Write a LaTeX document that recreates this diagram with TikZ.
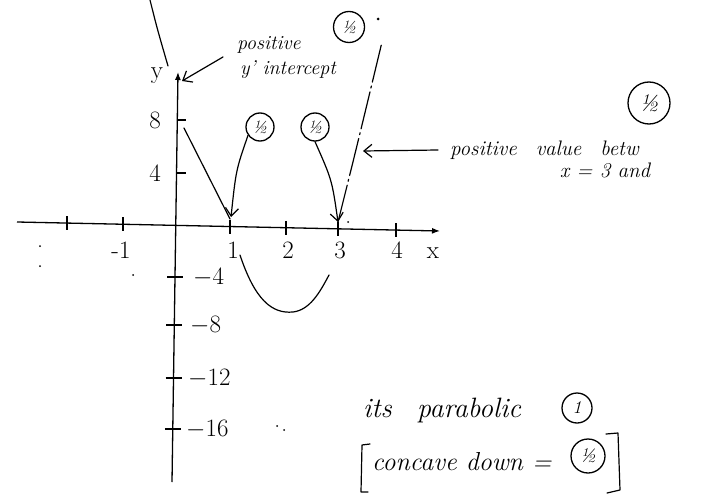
\documentclass[tikz,border=0pt]{standalone}
\usetikzlibrary{arrows.meta}
\begin{document}
\begin{tikzpicture}[x=1pt,y=-1pt,
  axisln/.style={line width=1.3pt, -{Latex[length=8pt,width=6pt]}},
  tk/.style={line width=1.2pt},
  num/.style={font=\fontsize{25}{28}\selectfont, inner sep=0pt},
  hand/.style={font=\fontsize{20}{24}\selectfont\itshape, inner sep=0pt},
  pen/.style={line width=1.2pt, line cap=round, line join=round},
  harrow/.style={pen, -{Straight Barb[length=8pt,width=13pt]}},
  ring/.style={circle, draw, line width=1.3pt, inner sep=0pt, minimum size=28pt, font=\fontsize{18}{20}\selectfont\itshape},
  speck/.style={fill, circle, inner sep=0pt, minimum size=2pt}]
\useasboundingbox[fill=white] (0,0) rectangle (720,500);
% axes
\coordinate (xl) at (17,222);
\coordinate (xr) at (440,231);
\coordinate (yb) at (172,482);
\coordinate (yt) at (178,72);
\draw[axisln] (xl) -- (xr);
\draw[axisln] (yb) -- (yt);
% x ticks
\foreach \x/\y in {67/223.1, 123/224.3, 230/226.6, 286/227.8, 338/228.9, 396/230.2}
  \draw[tk] (\x,\y-7) -- (\x,\y+7);
\node[num] (xm1) at (121,250) {-1};
\node[num] (x1) at (233,250) {1};
\node[num] (x2) at (288,250) {2};
\node[num] (x3) at (340,250) {3};
\node[num] (x4) at (397,250) {4};
\node[num] (xlab) at (433,253) {x};
% y ticks
\draw[tk] (177,120) -- (186,120);
\draw[tk] (176,173) -- (186,173);
\foreach \y in {277,325,378,429}
  \draw[tk] (\fpeval{172+(482-\y)*6/410-8},\y) -- (\fpeval{172+(482-\y)*6/410+8},\y);
\node[num] (y8) at (155,120) {8};
\node[num] (y4) at (155,173) {4};
\node[num, anchor=west] (ym4) at (193,277) {$-$4};
\node[num, anchor=west] (ym8) at (190,325) {$-$8};
\node[num, anchor=west] (ym12) at (188,378) {$-$12};
\node[num, anchor=west] (ym16) at (186,429) {$-$16};
\node[num] (ylab) at (157,76) {y};
% graph (hand drawn)
\draw[pen] (150,0) .. controls (157,28) .. (168,66);
\draw[pen] (184,128) -- (230,219);
\draw[pen] (240,255) .. controls (255,300) and (272,314) .. (293,312)
                     .. controls (310,310) and (320,292) .. (329,275);
\draw[pen, dash pattern=on 38pt off 4pt on 2pt off 4pt] (338,222) .. controls (356,150) .. (382,42);
% annotations
\node[hand, anchor=west] (pos1) at (237,45) {positive};
\node[hand, anchor=west] (yint) at (240,70) {y' intercept};
\coordinate (yarr) at (182,81);
\draw[harrow] (223,57) -- (yarr);
\node[ring, minimum size=31pt] (mtop) at (349,27) {½};
\node[speck, minimum size=3pt] (dt) at (378,19) {};
\node[ring] (m1) at (260,127) {½};
\node[ring] (m2) at (315,127) {½};
\coordinate (r1) at (231,217);
\coordinate (r3) at (338,222);
\draw[harrow] (m1.215) .. controls (236,170) .. (r1);
\draw[harrow] (m2.south) .. controls (332,180) .. (r3);
\node[ring, minimum size=42pt, font=\fontsize{24}{26}\selectfont\itshape] (mr) at (649,103) {½};
\node[font=\fontsize{21}{24}\selectfont\itshape, inner sep=0pt, anchor=west] (rtext) at (450,150) {positive\hspace{0.9em}value\hspace{0.9em}betw};
\node[font=\fontsize{21}{24}\selectfont\itshape, inner sep=0pt] (x3and) at (605,170) {x = 3 and};
\coordinate (r4) at (363,151);
\draw[harrow] (rtext.west) ++(-12,0) -- (r4);
% bottom text
\node[font=\fontsize{28}{32}\selectfont\itshape, inner sep=0pt, anchor=west] (para) at (363,410) {its\hspace{0.9em}parabolic};
\node[ring, minimum size=30pt] (mone) at (577,408) {1};
\node[font=\fontsize{26}{30}\selectfont\itshape, inner sep=0pt, anchor=west] (conc) at (372,462) {concave down =};
\node[ring, minimum size=34pt, font=\fontsize{20}{22}\selectfont\itshape] (mc) at (588,456) {½};
\draw[pen] (370,444) -- (362,445) -- (361,492) -- (368,492);
\draw[pen] (606,434) -- (618,433) -- (620,490) -- (607,493);
% stray specks
\node[speck] (s1) at (40,246) {};
\node[speck] (s2) at (40,266) {};
\node[speck] (s3) at (133,275) {};
\node[speck] (s4) at (277,426) {};
\node[speck] (s5) at (284,430) {};
\node[speck] (s6) at (348,222) {};
\end{tikzpicture}
\end{document}
